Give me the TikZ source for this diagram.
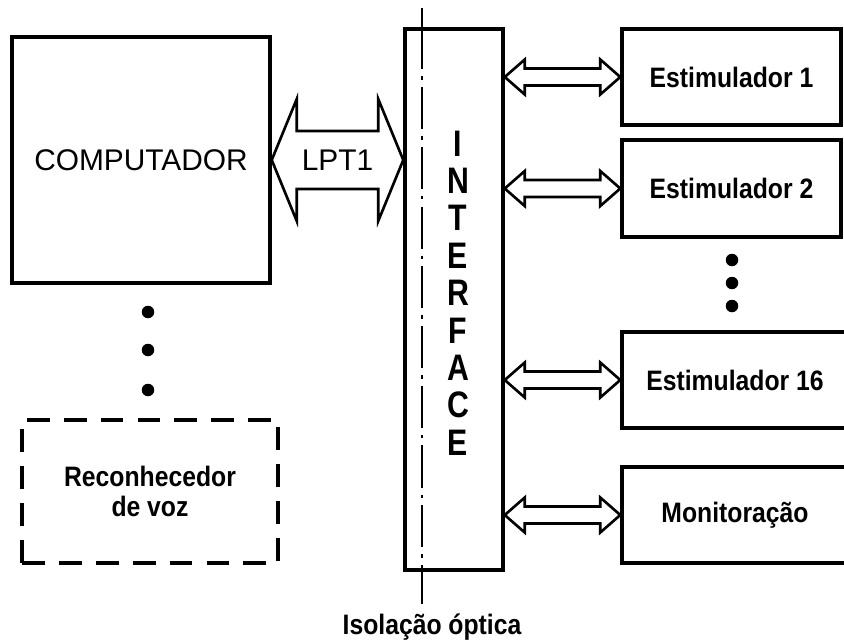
\documentclass[tikz,border=0pt]{standalone}
\usepackage{fontspec}
\setmainfont{Liberation Sans}
\newfontfamily\narrowfont[FakeStretch=0.88]{Liberation Sans}
\newfontfamily\tallfont[FakeStretch=0.82]{Liberation Sans}
\usetikzlibrary{calc}

% barramento: ponta esq., ponta dir., comprimento da cabeca, meia altura da cabeca, meia altura do corpo
\newcommand{\busarrow}[5]{%
  \draw[wire] (#1) -- ++(#3,#4) -- ++(0,#5-#4)
    -- ($(#2)+(-#3,#5)$) -- ++(0,#4-#5) -- (#2)
    -- ++(-#3,-#4) -- ++(0,#4-#5)
    -- ($(#1)+(#3,-#5)$) -- ++(0,#5-#4) -- cycle;}

\begin{document}
\begin{tikzpicture}[
      x=0.02cm, y=-0.02cm,
      box/.style={draw, line width=2pt, inner sep=0pt},
      stim/.style={box, minimum height=1.92cm,
        font=\narrowfont\bfseries\fontsize{16}{18}\selectfont},
      wire/.style={line width=1.5pt, line join=miter},
      dot/.style={circle, fill, inner sep=0pt, minimum size=0.25cm}
  ]
      \useasboundingbox (0,0) rectangle (844,640);

      % Computador e reconhecedor
      \node[box, minimum width=5.16cm, minimum height=4.92cm,
            font=\fontsize{17}{20}\selectfont] (comp) at (141,160) {COMPUTADOR};
      \node[box, dash pattern=on 13pt off 8pt, minimum width=5.12cm, minimum height=2.86cm,
            font=\narrowfont\bfseries\fontsize{16}{17}\selectfont, align=center]
            (reco) at (150,491.5) {Reconhecedor\\de voz};
      \foreach \y in {312,350,390}
          \node[dot] at (148,\y) {};

      % Interface
      \node[box, minimum width=1.96cm, minimum height=10.82cm] (iface) at (454,299.5) {};
      \node[font=\tallfont\bfseries\fontsize{21}{21.3}\selectfont, align=center]
            (ifacetext) at (458,293) {I\\N\\T\\E\\R\\F\\A\\C\\E};

      % Isolacao optica
      \node[font=\narrowfont\bfseries\fontsize{16}{18}\selectfont] (iso) at (432,627) {Isolação óptica};
      \coordinate (isotop) at (422,8);
      \coordinate (isobot) at (422,604);
      \draw[line width=1.2pt] (isotop) -- (isotop |- iface.north);
      \draw[line width=1.2pt, dash pattern=on 24pt off 4pt on 2pt off 4pt]
          (isotop |- iface.north) -- (isobot |- iface.south);
      \draw[line width=1.2pt] (isobot |- iface.south) -- (isobot);

      % Estimuladores
      \node[stim, minimum width=4.38cm] (est1) at (731.5,77) {Estimulador 1};
      \node[stim, minimum width=4.38cm, minimum height=1.94cm] (est2) at (731.5,188.5) {Estimulador 2};
      \node[stim, minimum width=4.52cm] (est16) at (735,380) {Estimulador 16};
      \node[stim, minimum width=4.52cm] (monit) at (735,515) {Monitoração};
      \foreach \y in {260,283,306}
          \node[dot] at (732,\y) {};

      % Barramentos
      \busarrow{comp.east}{iface.west |- comp.east}{25}{61}{29}
      \node[font=\fontsize{17}{20}\selectfont] (lpt) at ($(comp.east)!0.5!(iface.west |- comp.east)$) {LPT1};
      \foreach \b in {est1,est2,est16,monit} {
          \busarrow{iface.east |- \b.west}{\b.west}{20}{17.5}{8.5}
      }

  \end{tikzpicture}
\end{document}
